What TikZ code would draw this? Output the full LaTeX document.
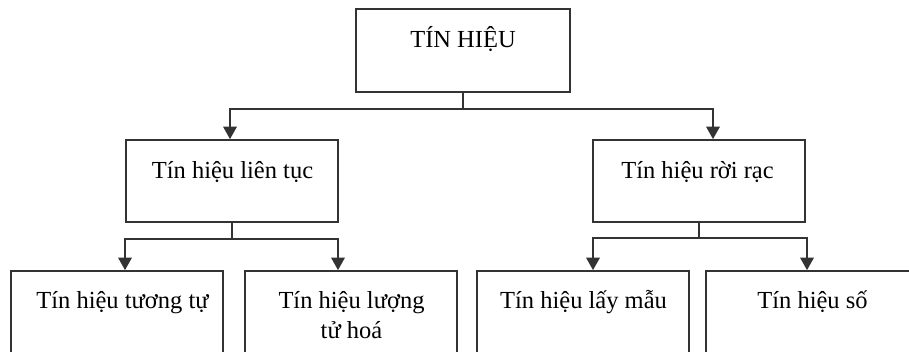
\documentclass[tikz,border=0pt]{standalone}
\usepackage{fontspec}
\setmainfont{Liberation Serif}
\usetikzlibrary{arrows.meta}
\begin{document}
\begin{tikzpicture}[x=1pt,y=-1pt,
  box/.style={draw=black!80, line width=1.7pt, inner sep=0pt, rectangle},
  lbl/.style={anchor=base, inner sep=0pt, text=black,
              font=\fontsize{24.5}{30}\selectfont},
  link/.style={draw=black!80, line width=1.7pt},
  arr/.style={link, -{Triangle[width=13.5pt,length=12.5pt]}}]
  \useasboundingbox (0,0) rectangle (909,352);
  \begin{scope}
  \clip (0,0) rectangle (909,352);
  % boxes
  \node[box, minimum width=214pt, minimum height=83pt] (top) at (463,50.5) {};
  \node[box, minimum width=212pt, minimum height=82pt] (midL) at (232,181) {};
  \node[box, minimum width=212pt, minimum height=82pt] (midR) at (699,181) {};
  \node[box, minimum width=212pt, minimum height=81.5pt] (botLL) at (117,311.75) {};
  \node[box, minimum width=212pt, minimum height=81.5pt] (botLR) at (351,311.75) {};
  \node[box, minimum width=212pt, minimum height=81.5pt] (botRL) at (583,311.75) {};
  \node[box, minimum width=214pt, minimum height=81.5pt] (botRR) at (813,311.75) {};
  \end{scope}
  % labels
  \node[lbl] (t0) at (463,48) {TÍN HIỆU};
  \node[lbl] (t1) at (232.5,179) {Tín hiệu liên tục};
  \node[lbl] (t2) at (697.5,179) {Tín hiệu rời rạc};
  \node[lbl] (t3) at (122.5,308) {Tín hiệu tương tự};
  \node[lbl] (t4a) at (351.5,308) {Tín hiệu lượng};
  \node[lbl] (t4b) at (351.5,338) {tử hoá};
  \node[lbl] (t5) at (583.5,308) {Tín hiệu lấy mẫu};
  \node[lbl] (t6) at (812.5,308) {Tín hiệu số};
  % connectors
  \draw[arr] (top.south) -- ++(0,16) -| ([xshift=-2pt]midL.north);
  \draw[arr] (top.south) -- ++(0,16) -| ([xshift=14pt]midR.north);
  \draw[arr] (midL.south) -- ++(0,16) -| ([xshift=8pt]botLL.north);
  \draw[arr] (midL.south) -- ++(0,16) -| ([xshift=-13pt]botLR.north);
  \draw[arr] (midR.south) -- ++(0,15) -| ([xshift=10pt]botRL.north);
  \draw[arr] (midR.south) -- ++(0,15) -| ([xshift=-6pt]botRR.north);
\end{tikzpicture}
\end{document}
